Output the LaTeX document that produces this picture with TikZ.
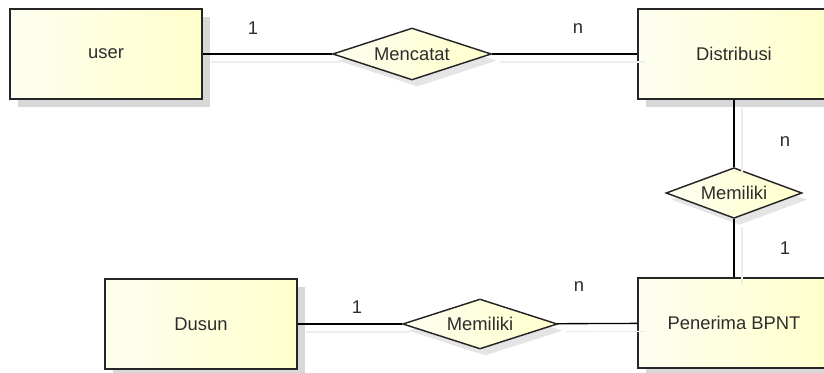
\documentclass[tikz,border=0pt]{standalone}
\usepackage{fontspec}
\setmainfont{Liberation Sans}
\usetikzlibrary{shapes.geometric, shadows}
\definecolor{entleft}{RGB}{254,254,240}
\definecolor{entright}{RGB}{255,255,204}
\definecolor{shade}{RGB}{216,216,216}
\definecolor{txt}{RGB}{45,45,45}
\begin{document}
\begin{tikzpicture}[x=0.75pt, y=-0.75pt, every node/.style={font=\fontsize{13.8}{16}\selectfont, text=txt}]
        \tikzstyle{ent} = [draw=black!85, line width=1.1pt, rectangle, minimum width=144pt, minimum height=67.5pt, left color=entleft, right color=entright, drop shadow={shadow xshift=6pt, shadow yshift=-6pt, fill=shade, opacity=1}]
        \tikzstyle{rel} = [draw=black!85, line width=1.1pt, diamond, aspect=3, inner sep=0pt, left color=entleft, right color=entright, drop shadow={shadow xshift=4pt, shadow yshift=-5pt, fill=black!10, opacity=1}]
        \tikzstyle{link} = [line width=1pt, preaction={draw=black!7, line width=1pt, transform canvas={shift={(6pt,-6pt)}}}]
        \useasboundingbox (0,0) rectangle (824,372);
        \node[ent] (U) at (106, 54) {user};
        \node[ent] (D) at (734, 54) {Distribusi};
        \node[ent] (P) at (734, 323) {Penerima BPNT};
        \node[ent] (S) at (201, 324) {Dusun};
        \node[rel, minimum width=119pt, minimum height=39pt] (M) at (412, 54) {Mencatat};
        \node[rel, minimum width=102pt, minimum height=38pt] (MD) at (734, 193) {Memiliki};
        \node[rel, minimum width=116pt, minimum height=37.5pt] (MS) at (480, 324) {Memiliki};
        \draw[link] (U) -- (M);
        \draw[link] (M) -- (D);
        \draw[link] (D) -- (MD);
        \draw[link] (MD) -- (P);
        \draw[link] (S) -- (MS);
        \draw[link] (MS) -- (P);
        % cardinalities
        \node (c1) at (253, 28) {1};
        \node (c2) at (578, 29) {n};
        \node (c3) at (785, 142) {n};
        \node (c4) at (785, 248) {1};
        \node (c5) at (579, 287) {n};
        \node (c6) at (357, 307) {1};
      \end{tikzpicture}
\end{document}
